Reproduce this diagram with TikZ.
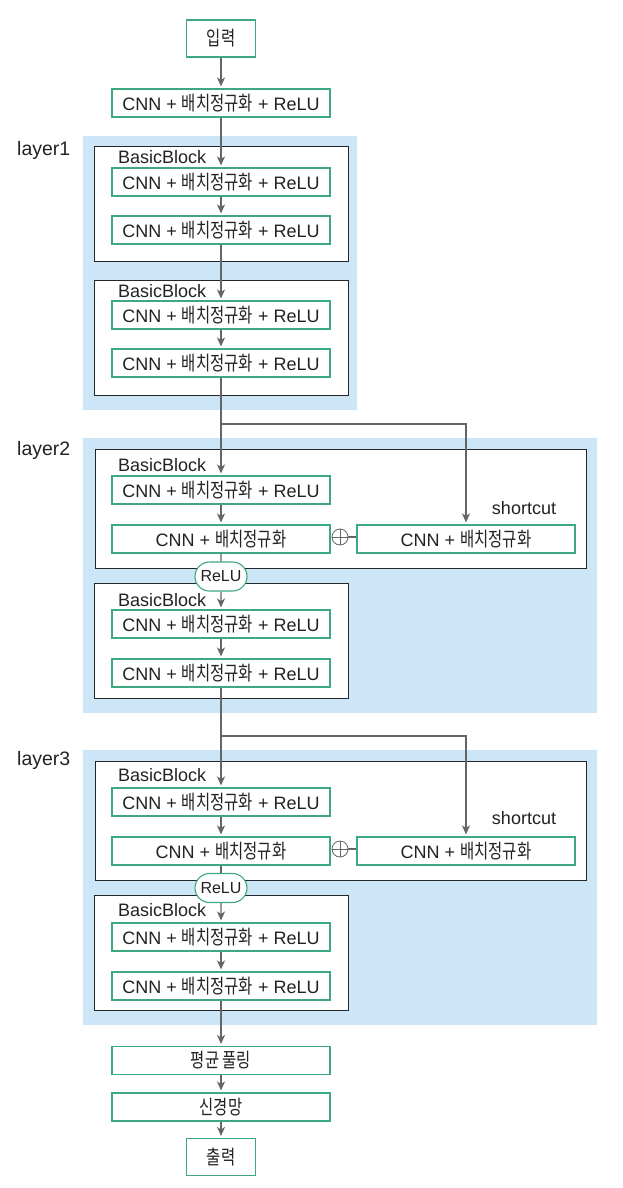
\documentclass[tikz,border=0pt]{standalone}
\usepackage{fontspec}
\setmainfont{Liberation Sans}
\newfontfamily\krfont[Scale=1.1,FakeStretch=0.78]{Noto Sans CJK KR}
\newcommand{\hg}[1]{{\krfont #1}}
\usetikzlibrary{arrows.meta,positioning,shapes.misc}
\definecolor{boxgreen}{HTML}{3DA97F}
\definecolor{layerblue}{HTML}{CCE6F8}
\definecolor{linegray}{HTML}{666666}
\definecolor{textdark}{HTML}{222222}
\tikzset{
    opbox/.style={draw=boxgreen, line width=1.1pt, fill=white, minimum width=218pt, minimum height=28pt, inner sep=0pt, text=textdark},
    iobox/.style={opbox, minimum width=69pt, minimum height=37pt},
    sidebox/.style={opbox},
    relubox/.style={draw=boxgreen, line width=1.1pt, fill=white, rounded rectangle, minimum width=54pt, minimum height=29pt, inner sep=1pt, text=textdark, font=\fontsize{16}{19}\selectfont},
    addop/.style={draw=linegray, line width=0.8pt, circle, minimum size=16pt, inner sep=0pt},
    blockframe/.style={draw=black!85, line width=0.9pt, fill=white},
    blocklabel/.style={anchor=west, text=textdark, inner sep=0pt},
    layerlabel/.style={anchor=west, text=textdark, inner sep=0pt, font=\fontsize{19.5}{22}\selectfont},
    flow/.style={draw=linegray, line width=1.2pt, -{Stealth[length=9pt,width=8pt,inset=2.5pt]}, shorten >=2pt},
    link/.style={draw=linegray, line width=1.2pt}
}
\begin{document}
\begin{tikzpicture}[x=1pt,y=-1pt,font=\fontsize{18}{21}\selectfont]
        \useasboundingbox (0,0) rectangle (622,1188);

        \fill[layerblue] (83,136) rectangle (357,410);
        \fill[layerblue] (83,438) rectangle (597,713);
        \fill[layerblue] (83,750) rectangle (597,1025);

        \node[layerlabel] (layer1) at (17,150) {layer1};
        \node[layerlabel] (layer2) at (17,450) {layer2};
        \node[layerlabel] (layer3) at (17,760) {layer3};

        \draw[blockframe] (94,146) rectangle (348,261);
        \draw[blockframe] (94,280) rectangle (348,395);
        \draw[blockframe] (95,449) rectangle (586,568);
        \draw[blockframe] (94,583) rectangle (348,698);
        \draw[blockframe] (95,761) rectangle (586,880);
        \draw[blockframe] (94,895) rectangle (348,1010);

        \node[iobox] (in) at (221,38.5) {\hg{입력}};
        \node[opbox] (stem) at (221,103) {CNN + \hg{배치정규화} + ReLU};

        \node[blocklabel] (bb11) at (118,157) {BasicBlock};
        \node[opbox] (l1a1) at (221,182) {CNN + \hg{배치정규화} + ReLU};
        \node[opbox] (l1a2) at (221,230) {CNN + \hg{배치정규화} + ReLU};
        \node[blocklabel] (bb12) at (118,291) {BasicBlock};
        \node[opbox] (l1b1) at (221,315) {CNN + \hg{배치정규화} + ReLU};
        \node[opbox] (l1b2) at (221,363) {CNN + \hg{배치정규화} + ReLU};

        \coordinate (split2) at (221,424);
        \node[blocklabel] (bb21) at (118,465) {BasicBlock};
        \node[opbox] (l2a1) at (221,490) {CNN + \hg{배치정규화} + ReLU};
        \node[opbox] (l2a2) at (221,539) {CNN + \hg{배치정규화}};
        \node[addop] (l2add) at (340,537) {};
        \node[sidebox] (l2sc) at (466,539) {CNN + \hg{배치정규화}};
        \node[text=textdark] (l2sclabel) at (524,508) {shortcut};
        \node[relubox] (l2relu) at (221,576.5) {ReLU};
        \node[blocklabel] (bb22) at (118,600) {BasicBlock};
        \node[opbox] (l2b1) at (221,624) {CNN + \hg{배치정규화} + ReLU};
        \node[opbox] (l2b2) at (221,673) {CNN + \hg{배치정규화} + ReLU};

        \coordinate (split3) at (221,736);
        \node[blocklabel] (bb31) at (118,775) {BasicBlock};
        \node[opbox] (l3a1) at (221,802) {CNN + \hg{배치정규화} + ReLU};
        \node[opbox] (l3a2) at (221,851) {CNN + \hg{배치정규화}};
        \node[addop] (l3add) at (340,849) {};
        \node[sidebox] (l3sc) at (466,851) {CNN + \hg{배치정규화}};
        \node[text=textdark] (l3sclabel) at (524,818) {shortcut};
        \node[relubox] (l3relu) at (221,888) {ReLU};
        \node[blocklabel] (bb32) at (118,910) {BasicBlock};
        \node[opbox] (l3b1) at (221,937) {CNN + \hg{배치정규화} + ReLU};
        \node[opbox] (l3b2) at (221,986) {CNN + \hg{배치정규화} + ReLU};

        \node[opbox] (pool) at (221,1060.5) {\hg{평균 풀링}};
        \node[opbox] (fc) at (221,1107) {\hg{신경망}};
        \node[iobox] (out) at (221,1157) {\hg{출력}};

        \draw[link, line width=0.8pt] (l2add.north) -- (l2add.south) (l2add.west) -- (l2add.east);
        \draw[link, line width=0.8pt] (l3add.north) -- (l3add.south) (l3add.west) -- (l3add.east);

        \draw[flow] (in) -- (stem);
        \draw[flow] (stem) -- (l1a1);
        \draw[flow] (l1a1) -- (l1a2);
        \draw[flow] (l1a2) -- (l1b1);
        \draw[flow] (l1b1) -- (l1b2);

        \draw[link] (l1b2) -- (split2);
        \draw[flow] (split2) -- (l2a1);
        \draw[flow] (split2) -| (l2sc);
        \draw[flow] (l2a1) -- (l2a2);
        \draw[link] (l2add) -- (l2add -| l2sc.west);
        \draw[link] (l2a2) -- (l2relu);
        \draw[flow] (l2relu) -- (l2b1);
        \draw[flow] (l2b1) -- (l2b2);

        \draw[link] (l2b2) -- (split3);
        \draw[flow] (split3) -- (l3a1);
        \draw[flow] (split3) -| (l3sc);
        \draw[flow] (l3a1) -- (l3a2);
        \draw[link] (l3add) -- (l3add -| l3sc.west);
        \draw[link] (l3a2) -- (l3relu);
        \draw[flow] (l3relu) -- (l3b1);
        \draw[flow] (l3b1) -- (l3b2);

        \draw[flow] (l3b2) -- (pool);
        \draw[flow] (pool) -- (fc);
        \draw[flow] (fc) -- (out);
\end{tikzpicture}
\end{document}
